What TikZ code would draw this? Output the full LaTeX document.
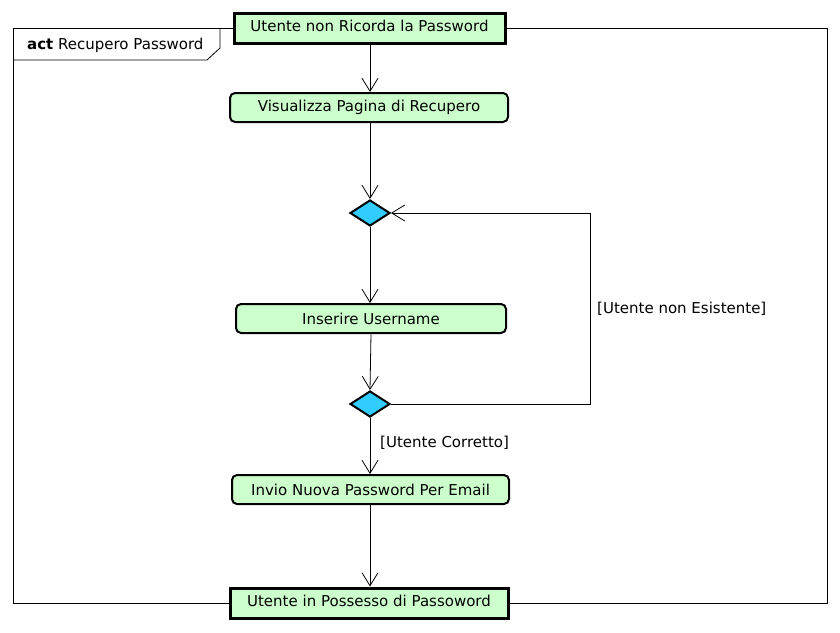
\documentclass[tikz,border=0pt]{standalone}
\usepackage{fontspec}
\setmainfont{DejaVu Sans}
\usetikzlibrary{arrows.meta,shapes.geometric}
\definecolor{actgreen}{HTML}{CCFFCC}
\definecolor{decblue}{HTML}{33CCFF}
\newcommand{\uplift}[1]{\raisebox{5pt}{#1}}
\begin{document}
\begin{tikzpicture}[x=1pt,y=-1pt,
  font=\fontsize{15}{18}\selectfont,
  flow/.style={draw=black,line width=0.8pt,-{Straight Barb[length=13pt,width=16pt,line width=0.8pt]}},
  actbox/.style={draw=black,fill=actgreen,line width=2pt,rounded corners=5pt,minimum width=278pt,minimum height=29pt,inner sep=0pt},
  termbox/.style={draw=black,fill=actgreen,line width=3pt,minimum height=30pt,inner sep=0pt},
  decbox/.style={draw=black,fill=decblue,line width=2pt,diamond,minimum width=40pt,minimum height=26pt,inner sep=0pt,aspect=1.54},
  guard/.style={inner sep=0pt,anchor=west}]
\useasboundingbox (0,0) rectangle (840,632);
% frame
\draw[line width=0.8pt] (13,28) rectangle (827,603);
\draw[line width=0.8pt] (13,60) -- (207,60) -- (220,48) -- (220,28);
\node[guard] (title) at (27,45) {\textbf{act} Recupero Password};
% nodes
\node[termbox,minimum width=271pt] (start) at (369.5,28) {\uplift{Utente non Ricorda la Password}};
\node[actbox] (vis) at (369,107.5) {Visualizza Pagina di Recupero};
\node[decbox] (d1) at (370,213) {};
\node[actbox,minimum width=270pt] (ins) at (371,318.5) {Inserire Username};
\node[decbox] (d2) at (370,404) {};
\node[actbox,minimum width=277pt] (inv) at (370.5,489.5) {Invio Nuova Password Per Email};
\node[termbox,minimum width=278pt] (fin) at (369,603) {\uplift{Utente in Possesso di Passoword}};
% connectors
\draw[flow] (start.south -| d1) -- (vis.north -| d1);
\draw[flow] (vis.south -| d1) -- (d1.north);
\draw[flow] (d1.south) -- (ins.north -| d1);
\draw[flow] (ins.south) -- (d2.north);
\draw[flow] (d2.south) -- (inv.north -| d2);
\draw[flow] (inv.south -| d2) -- (fin.north -| d2);
\coordinate (c1) at (590,404);
\coordinate (c2) at (590,213);
\draw[flow] (d2.east) -- (c1) -- (c2) -- (d1.east);
\node[guard] (g1) at (597,309) {[Utente non Esistente]};
\node[guard] (g2) at (380,443) {[Utente Corretto]};
\end{tikzpicture}
\end{document}
